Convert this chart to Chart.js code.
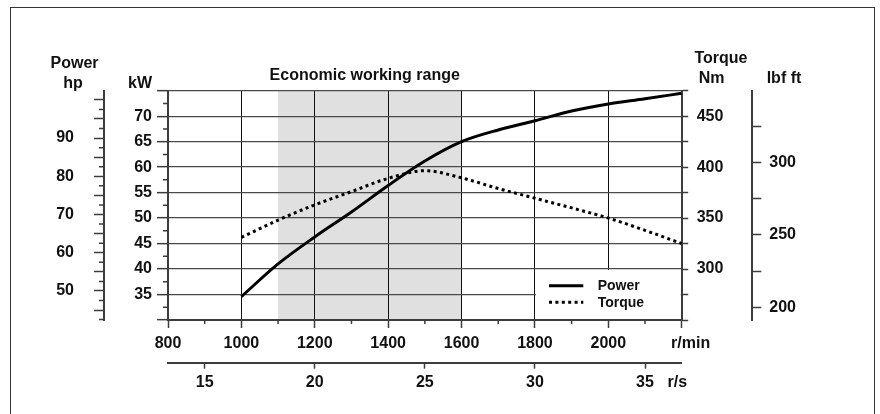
<!DOCTYPE html>
<html>
<head>
<title>Engine power and torque</title>
<script src="https://cdn.jsdelivr.net/npm/chart.js@4.4.1/dist/chart.umd.min.js"></script>
<style>
  body { margin: 0; background: #fff; overflow: hidden; }
  #frame { position: absolute; left: 10px; top: 6.5px; width: 864.5px; height: 440px; border: 1.5px solid #333; box-sizing: border-box; }
  #engineChart { position: absolute; left: 0; top: 0; }
</style>
</head>
<body>
<div id="frame"></div>
<canvas id="engineChart" width="880" height="414"></canvas>
<script>
// ========= values ===================================
const rpm = [1000, 1100, 1200, 1300, 1400, 1500, 1600, 1700, 1800, 1900, 2000, 2100, 2200]
const powerKw = [34.6, 41.0, 46.3, 51.2, 56.4, 61.2, 65.0, 67.3, 69.1, 71.0, 72.4, 73.4, 74.5]
const torqueNm = [331, 348, 363, 376, 389, 396.5, 389.5, 379, 369.5, 360, 350, 338, 325]
const economicRange = [1100, 1600]

const rpmLabels = [800, 1000, 1200, 1400, 1600, 1800, 2000]
const rpsLabels = [15, 20, 25, 30, 35]
const kwLabels = [35, 40, 45, 50, 55, 60, 65, 70]
const hpLabels = [50, 60, 70, 80, 90]
const nmLabels = [300, 350, 400, 450]
const lbfLabels = [200, 250, 300]

const INK = '#111'
const AXIS = '#3c3c3c'
const FONT = "'Liberation Sans', Arial, sans-serif"

Chart.defaults.font = { family: FONT, size: 16, weight: 'bold' }
Chart.defaults.color = INK

// tick positions every `step` between min and max
function stepTicks(min, max, step) {
    const out = []
    for (let v = Math.ceil(min / step - 1e-9) * step; v <= max + 1e-9; v += step) {
        out.push({ value: +v.toFixed(4) })
    }
    return out
}
const isMult = (v, m) => Math.abs(v / m - Math.round(v / m)) < 1e-6
const pts = ys => rpm.map((r, i) => ({ x: r, y: ys[i] }))

// =========== plugins: shading, minor ticks, legend, headings ===========

const shading = {
    id: 'shading',
    beforeDraw(chart) {
        const { ctx, chartArea } = chart
        const x = chart.scales.x
        const x0 = x.getPixelForValue(economicRange[0])
        const x1 = x.getPixelForValue(economicRange[1])
        ctx.save()
        ctx.fillStyle = '#e0e0e0'
        ctx.fillRect(x0, chartArea.top, x1 - x0, chartArea.bottom - chartArea.top)
        ctx.restore()
    },
}

const extras = {
    id: 'extras',
    afterDatasetsDraw(chart) {
        const { ctx, chartArea } = chart
        const { x, kw, hp, nm, lbf } = chart.scales
        ctx.save()

        // short ticks between the long ones
        ctx.strokeStyle = AXIS
        ctx.lineWidth = 1.5
        ctx.beginPath()
        kw.ticks.filter(t => !isMult(t.value, 5)).forEach(t => {
            const y = kw.getPixelForValue(t.value)
            ctx.moveTo(chartArea.left - 5, y)
            ctx.lineTo(chartArea.left, y)
        })
        hp.ticks.filter(t => !isMult(t.value, 5)).forEach(t => {
            const y = hp.getPixelForValue(t.value)
            ctx.moveTo(hp.right - 5, y)
            ctx.lineTo(hp.right, y)
        })
        x.ticks.filter(t => !isMult(t.value, 200)).forEach(t => {
            const px = x.getPixelForValue(t.value)
            ctx.moveTo(px, chartArea.bottom)
            ctx.lineTo(px, chartArea.bottom + 4)
        })
        ctx.stroke()

        // legend box in the lower right cell
        const lx = x.getPixelForValue(1800) + 1
        const ly = kw.getPixelForValue(40) + 1
        ctx.fillStyle = '#fff'
        ctx.fillRect(lx, ly, chartArea.right - 1 - lx, chartArea.bottom - 1 - ly)

        ctx.strokeStyle = '#000'
        ctx.lineWidth = 3
        ctx.beginPath()
        ctx.moveTo(549, 285.7)
        ctx.lineTo(583.3, 285.7)
        ctx.stroke()
        ctx.setLineDash([3, 3.4])
        ctx.beginPath()
        ctx.moveTo(549, 302.3)
        ctx.lineTo(583.3, 302.3)
        ctx.stroke()
        ctx.setLineDash([])

        ctx.fillStyle = INK
        ctx.font = `bold 14px ${FONT}`
        ctx.textAlign = 'left'
        ctx.textBaseline = 'middle'
        ctx.fillText('Power', 597.7, 286.5)
        ctx.fillText('Torque', 597.7, 303)

        // headings
        ctx.font = `bold 16px ${FONT}`
        ctx.textAlign = 'center'
        const top = chartArea.top
        ctx.fillText('Economic working range', 364.7, top - 15.5)
        ctx.fillText('Power', hp.right - 29.5, top - 27.5)
        ctx.fillText('hp', hp.right - 31, top - 7.5)
        ctx.fillText('kW', kw.left + 36, top - 7.5)
        ctx.fillText('Torque', nm.left + 39.3, top - 32.5)
        ctx.fillText('Nm', nm.left + 30, top - 12.5)
        ctx.fillText('lbf ft', lbf.left + 31.7, top - 12.5)
        ctx.restore()
    },
}

// =========== chart ===========

const canvas = document.getElementById('engineChart')
new Chart(canvas, {
    type: 'line',
    data: {
        datasets: [
            {
                label: 'Power',
                data: pts(powerKw),
                xAxisID: 'x',
                yAxisID: 'kw',
                borderColor: '#000',
                borderWidth: 3,
                pointRadius: 0,
                cubicInterpolationMode: 'monotone',
            },
            {
                label: 'Torque',
                data: pts(torqueNm),
                xAxisID: 'x',
                yAxisID: 'nm',
                borderColor: '#000',
                borderWidth: 3,
                borderDash: [3, 3.4],
                pointRadius: 0,
                cubicInterpolationMode: 'monotone',
            },
        ],
    },
    options: {
        responsive: false,
        animation: false,
        layout: { padding: { left: 40, right: 67.7, top: 90.7, bottom: 21.3 } },
        plugins: { legend: { display: false }, tooltip: { enabled: false } },
        scales: {
            x: {
                type: 'linear',
                position: 'bottom',
                weight: 0,
                min: 800,
                max: 2200,
                afterBuildTicks: s => { s.ticks = stepTicks(800, 2200, 100) },
                afterFit: s => { s.height = 42.7 },
                border: { color: AXIS, width: 2 },
                grid: {
                    color: c => c.tick && isMult(c.tick.value, 200) ? '#111' : 'rgba(0,0,0,0)',
                    tickColor: c => c.tick && isMult(c.tick.value, 200) ? AXIS : 'rgba(0,0,0,0)',
                    lineWidth: 1,
                    tickWidth: 1.5,
                    tickLength: 8,
                },
                ticks: {
                    autoSkip: false,
                    maxRotation: 0,
                    padding: 6,
                    callback: v => v === 2200 ? '    r/min' : rpmLabels.includes(v) ? String(v) : '',
                },
            },
            rps: {
                type: 'linear',
                position: 'bottom',
                weight: 1,
                min: 800 / 60,
                max: 2200 / 60,
                afterBuildTicks: s => { s.ticks = rpsLabels.map(v => ({ value: v })).concat({ value: 2200 / 60 }) },
                afterFit: s => { s.height = 30 },
                border: { color: AXIS, width: 2 },
                grid: {
                    drawOnChartArea: false,
                    tickColor: c => c.tick && c.tick.value > 36 ? 'rgba(0,0,0,0)' : AXIS,
                    tickWidth: 1.5,
                    tickLength: 6,
                },
                ticks: {
                    autoSkip: false,
                    maxRotation: 0,
                    padding: 4,
                    callback: v => v > 36 ? 'r/s  ' : String(v),
                },
            },
            kw: {
                type: 'linear',
                position: 'left',
                weight: 0,
                min: 30,
                max: 75,
                afterBuildTicks: s => { s.ticks = stepTicks(30, 75, 2.5) },
                afterFit: s => { s.width = 64 },
                border: { color: AXIS, width: 2 },
                grid: {
                    color: c => c.tick && isMult(c.tick.value, 5) ? '#4a4a4a' : 'rgba(0,0,0,0)',
                    tickColor: c => c.tick && isMult(c.tick.value, 5) ? AXIS : 'rgba(0,0,0,0)',
                    lineWidth: 1.3,
                    tickWidth: 1.5,
                    tickLength: 11,
                },
                ticks: { autoSkip: false, padding: 5, callback: v => kwLabels.includes(v) ? String(v) : '' },
            },
            hp: {
                type: 'linear',
                position: 'left',
                weight: 1,
                min: 42.4,
                max: 102.4,
                afterBuildTicks: s => { s.ticks = stepTicks(42.4, 102.4, 2.5) },
                afterFit: s => { s.width = 64 },
                border: { color: AXIS, width: 2 },
                grid: {
                    drawOnChartArea: false,
                    tickColor: c => c.tick && isMult(c.tick.value, 5) ? AXIS : 'rgba(0,0,0,0)',
                    tickWidth: 1.5,
                    tickLength: 10,
                },
                ticks: { autoSkip: false, padding: 20, callback: v => hpLabels.includes(v) ? String(v) : '' },
            },
            nm: {
                type: 'linear',
                position: 'right',
                weight: 0,
                min: 250,
                max: 475,
                afterBuildTicks: s => { s.ticks = stepTicks(250, 475, 25) },
                afterFit: s => { s.width = 70.6 },
                border: { color: AXIS, width: 2 },
                grid: { drawOnChartArea: false, tickColor: AXIS, tickWidth: 1.5, tickLength: 6.5 },
                ticks: { autoSkip: false, padding: 8.5, callback: v => nmLabels.includes(v) ? String(v) : '' },
            },
            lbf: {
                type: 'linear',
                position: 'right',
                weight: 1,
                min: 191.2,
                max: 349.6,
                afterBuildTicks: s => { s.ticks = stepTicks(191.2, 349.6, 25) },
                afterFit: s => { s.width = 60 },
                border: { color: AXIS, width: 2 },
                grid: { drawOnChartArea: false, tickColor: AXIS, tickWidth: 1.5, tickLength: 9 },
                ticks: { autoSkip: false, padding: 8, callback: v => lbfLabels.includes(v) ? String(v) : '' },
            },
        },
    },
    plugins: [shading, extras],
})
</script>
</body>
</html>
